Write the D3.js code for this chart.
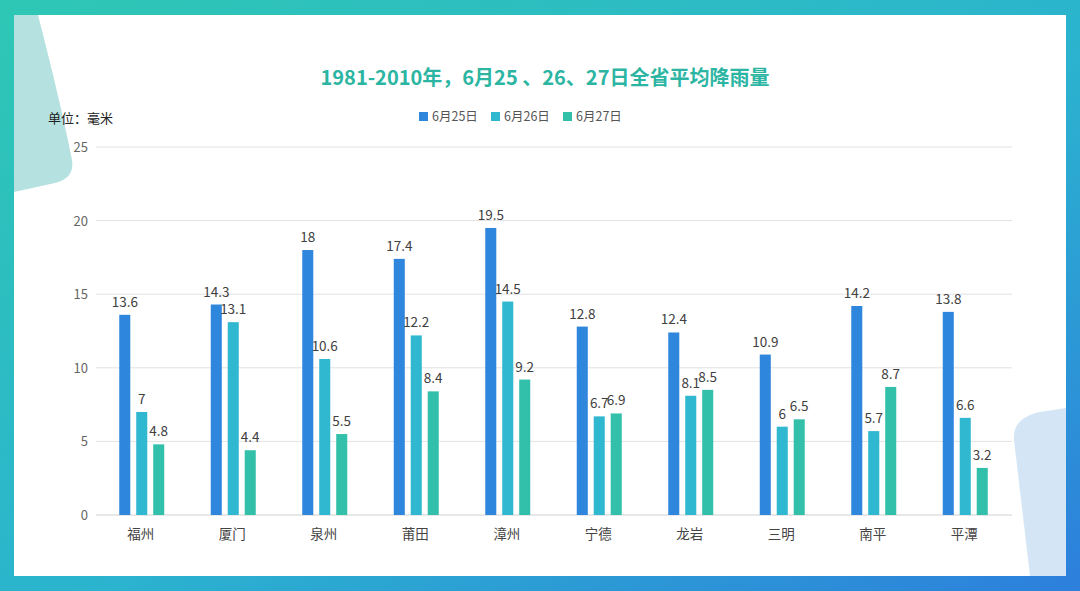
<!DOCTYPE html><html><head><meta charset="utf-8"><script src="https://cdn.jsdelivr.net/npm/d3@7"></script>
<style>body{margin:0;font-family:"Noto Sans CJK SC","Open Sans",sans-serif}</style></head><body><svg id="c" width="1080" height="591"></svg>
<script>
const categories=["福州","厦门","泉州","莆田","漳州","宁德","龙岩","三明","南平","平潭"];
const seriesNames=["6月25日","6月26日","6月27日"];
const s25=[13.6,14.3,18,17.4,19.5,12.8,12.4,10.9,14.2,13.8];
const s26=[7,13.1,10.6,12.2,14.5,6.7,8.1,6,5.7,6.6];
const s27=[4.8,4.4,5.5,8.4,9.2,6.9,8.5,6.5,8.7,3.2];
const yTicks=[0,5,10,15,20,25];
const colors=["#2f86dd","#2fb8d0","#33c0aa"];
const series=[s25,s26,s27];
const svg=d3.select("#c");
const defs=svg.append("defs");
const g=defs.append("linearGradient").attr("id","bg").attr("x1","0").attr("y1","0").attr("x2","1").attr("y2","1");
g.append("stop").attr("offset","0").attr("stop-color","#2ec7b4");
g.append("stop").attr("offset","0.55").attr("stop-color","#2bb3cf");
g.append("stop").attr("offset","1").attr("stop-color","#2d7fdc");
svg.append("rect").attr("width",1080).attr("height",591).attr("fill","url(#bg)");
svg.append("rect").attr("x",14).attr("y",15).attr("width",1052).attr("height",561).attr("fill","#fff");
svg.append("path").attr("d","M14,15 L38,15 Q60,100 72,160 Q75,178 55,183 L14,192 Z").attr("fill","#a9dcdc").attr("opacity",0.85);
svg.append("path").attr("d","M1066,408 L1040,412 Q1012,418 1014,440 L1030,576 L1066,576 Z").attr("fill","#cfe3f5").attr("opacity",0.9);
const x=d3.scaleBand().domain(categories).range([95,1010]);
const xi=d3.scaleBand().domain([0,1,2]).range([0,45]).paddingInner(0.35);
const y=d3.scaleLinear().domain([0,25]).range([515,147]);
const grid=svg.append("g");
yTicks.forEach(t=>{grid.append("line").attr("x1",96).attr("x2",1012).attr("y1",y(t)).attr("y2",y(t)).attr("stroke",t===0?"#d0d0d0":"#e2e2e2");
grid.append("text").attr("x",88).attr("y",y(t)+5).attr("text-anchor","end").attr("font-size",13).attr("fill","#666").text(t);});
categories.forEach((c,i)=>{
  const x0=x(c)+x.bandwidth()/2-21.5;
  series.forEach((s,j)=>{
    const bx=x0+xi(j);
    svg.append("rect").attr("x",bx).attr("y",y(s[i])).attr("width",xi.bandwidth()).attr("height",y(0)-y(s[i])).attr("fill",colors[j]);
    svg.append("text").attr("x",bx+xi.bandwidth()/2).attr("y",y(s[i])-8).attr("text-anchor","middle").attr("font-size",13.5).attr("fill","#404040").text(s[i]);
  });
  svg.append("text").attr("x",x(c)+x.bandwidth()/2).attr("y",539).attr("text-anchor","middle").attr("font-size",13.5).attr("fill","#444").text(c);
});
svg.append("text").attr("x",545).attr("y",85).attr("text-anchor","middle").attr("font-size",20).attr("font-weight","bold").attr("fill","#2bb5a2").text("1981-2010年，6月25 、26、27日全省平均降雨量");
svg.append("text").attr("x",48).attr("y",123).attr("font-size",13).attr("fill","#222").text("单位：毫米");
const lx=[419,491,563];
seriesNames.forEach((n,j)=>{svg.append("rect").attr("x",lx[j]).attr("y",112).attr("width",9).attr("height",9).attr("fill",colors[j]);
svg.append("text").attr("x",lx[j]+13).attr("y",121).attr("font-size",12.5).attr("fill","#555").text(n);});
</script></body></html>
